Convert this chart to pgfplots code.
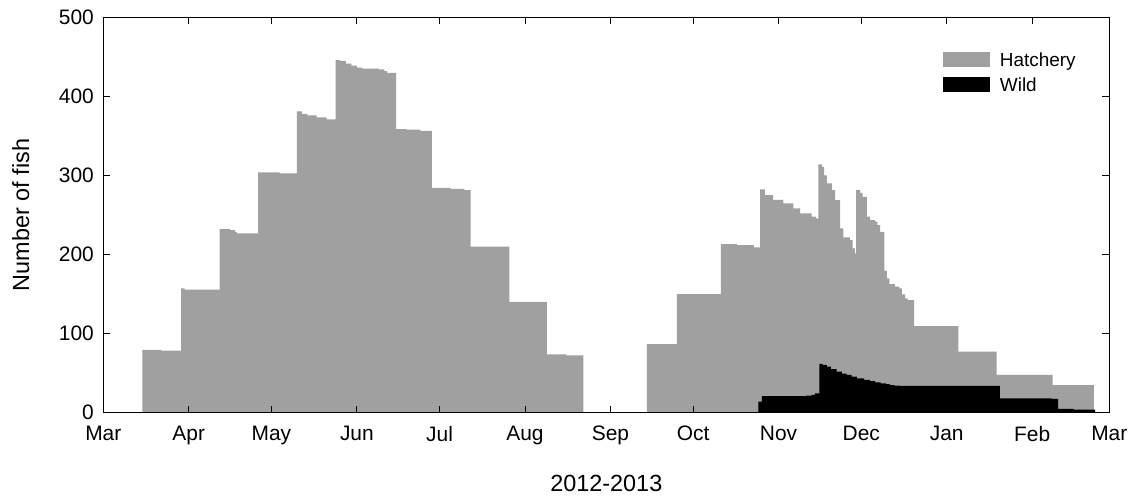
\documentclass[border=0pt]{standalone}
\usepackage{fontspec}
\setmainfont{Liberation Sans}
\usepackage{pgfplots}
\pgfplotsset{compat=1.18}
\definecolor{hatch}{RGB}{160,160,160}
\begin{document}
\begin{tikzpicture}
\path[use as bounding box] (-103.3bp,-84.3bp) rectangle (1028.7bp,412.7bp);
\begin{axis}[
 scale only axis, width=1006bp, height=395.4bp,
 at={(0,0)}, anchor=south west,
 xmin=0, xmax=365, ymin=0, ymax=500,
 xtick={0,31,61,92,122,153,184,214,245,275,306,337,365},
 xticklabels={Mar,Apr,May,Jun,Jul,Aug,Sep,Oct,Nov,Dec,Jan,Feb,Mar},
 ytick={0,100,...,500},
 /pgf/number format/assume math mode=true,
 axis on top,
 tick align=inside, major tick length=7bp,
 axis line style={line width=1bp},
 every tick/.style={black, line width=1bp},
 ticklabel style={font=\fontsize{21}{25}\selectfont},
 xticklabel style={yshift=-10bp},
 yticklabel style={xshift=-6bp},
 xlabel={2012-2013}, ylabel={Number of fish},
 label style={font=\fontsize{23.5}{28}\selectfont},
 xlabel style={at={(axis description cs:0.5,-0.178)}, anchor=center},
 ylabel style={at={(axis description cs:-0.082,0.5)}, anchor=center},
 legend cell align=left,
 legend image code/.code={\fill[#1] (0bp,-7.5bp) rectangle (47bp,7.5bp);},
 legend style={draw=none, fill=none, at={(axis description cs:0.8344,0.913)}, anchor=north west,
   inner sep=0pt, row sep=10bp, column sep=10bp,
   font=\fontsize{19}{23}\selectfont, nodes={inner sep=0pt, text depth=0pt}},
]
\addplot[const plot, fill=hatch, draw=none] coordinates {
(14.2,79.3) (21,78.5) (28.2,157.3) (29.5,155.5) (42.2,232) (46,231) (47.8,228.5) (48.5,226.8)
(56.2,304) (64,302.5) (70.2,381) (72,378) (74,376) (77.4,373.4) (81,371) (84.3,446) (86,444.5)
(88,441.5) (90,439) (92,436.5) (94,435) (100,434.3) (102,432) (103,429.8) (106.2,358.7) (110,358)
(115,356.5) (119.2,284.4) (126,283) (131,281.5) (133.3,209.9) (147.3,140.3) (160.9,73.8) (168,72.5)
(174.2,0) (197.2,86.8) (208.1,150) (224.1,213.3) (230,212) (236,209) (238.3,282.4) (240,275)
(243,269) (246.7,264.7) (250.4,258.4) (252.8,252) (257,247.8) (258.5,245.8) (259.4,314) (260.7,311)
(261.5,300) (262.5,290) (264.3,281.5) (265.5,268.9) (267.3,233) (268.5,221.7) (270.9,218.3)
(271.9,207.8) (272.7,201.5) (273.1,281.5) (274.6,278) (275.5,273) (277,247.8) (278.2,243.6)
(280,241.5) (280.8,237.3) (281.8,228.8) (283.4,179.5) (284.3,170) (285.2,162.7) (287.3,159.3)
(288.8,157.2) (289.7,149.7) (290.9,144.6) (291.8,142.5) (294.2,109.6) (310.2,77.1) (324.1,47.7)
(344.4,35) (359.4,35)
} \closedcycle;
\addplot[const plot, fill=black, draw=none] coordinates {
(237.7,13.9) (238.9,21.1) (255,21.5) (257,22.5) (258.2,24.5) (259.8,61.6) (261,60.5) (262.5,58.2)
(264,55) (266.1,51.8) (268,49.5) (269.7,47.7) (271.5,45.5) (273.4,43.5) (276,41.5) (278.2,40)
(280,38.5) (282,37.2) (284,36) (285.4,35) (287,34.3) (289,33.8) (325.3,18.2) (344.1,17.6)
(346.4,4.7) (352,3.8) (359.8,3.4)
} \closedcycle;
\legend{Hatchery, Wild}
\end{axis}
\end{tikzpicture}
\end{document}
